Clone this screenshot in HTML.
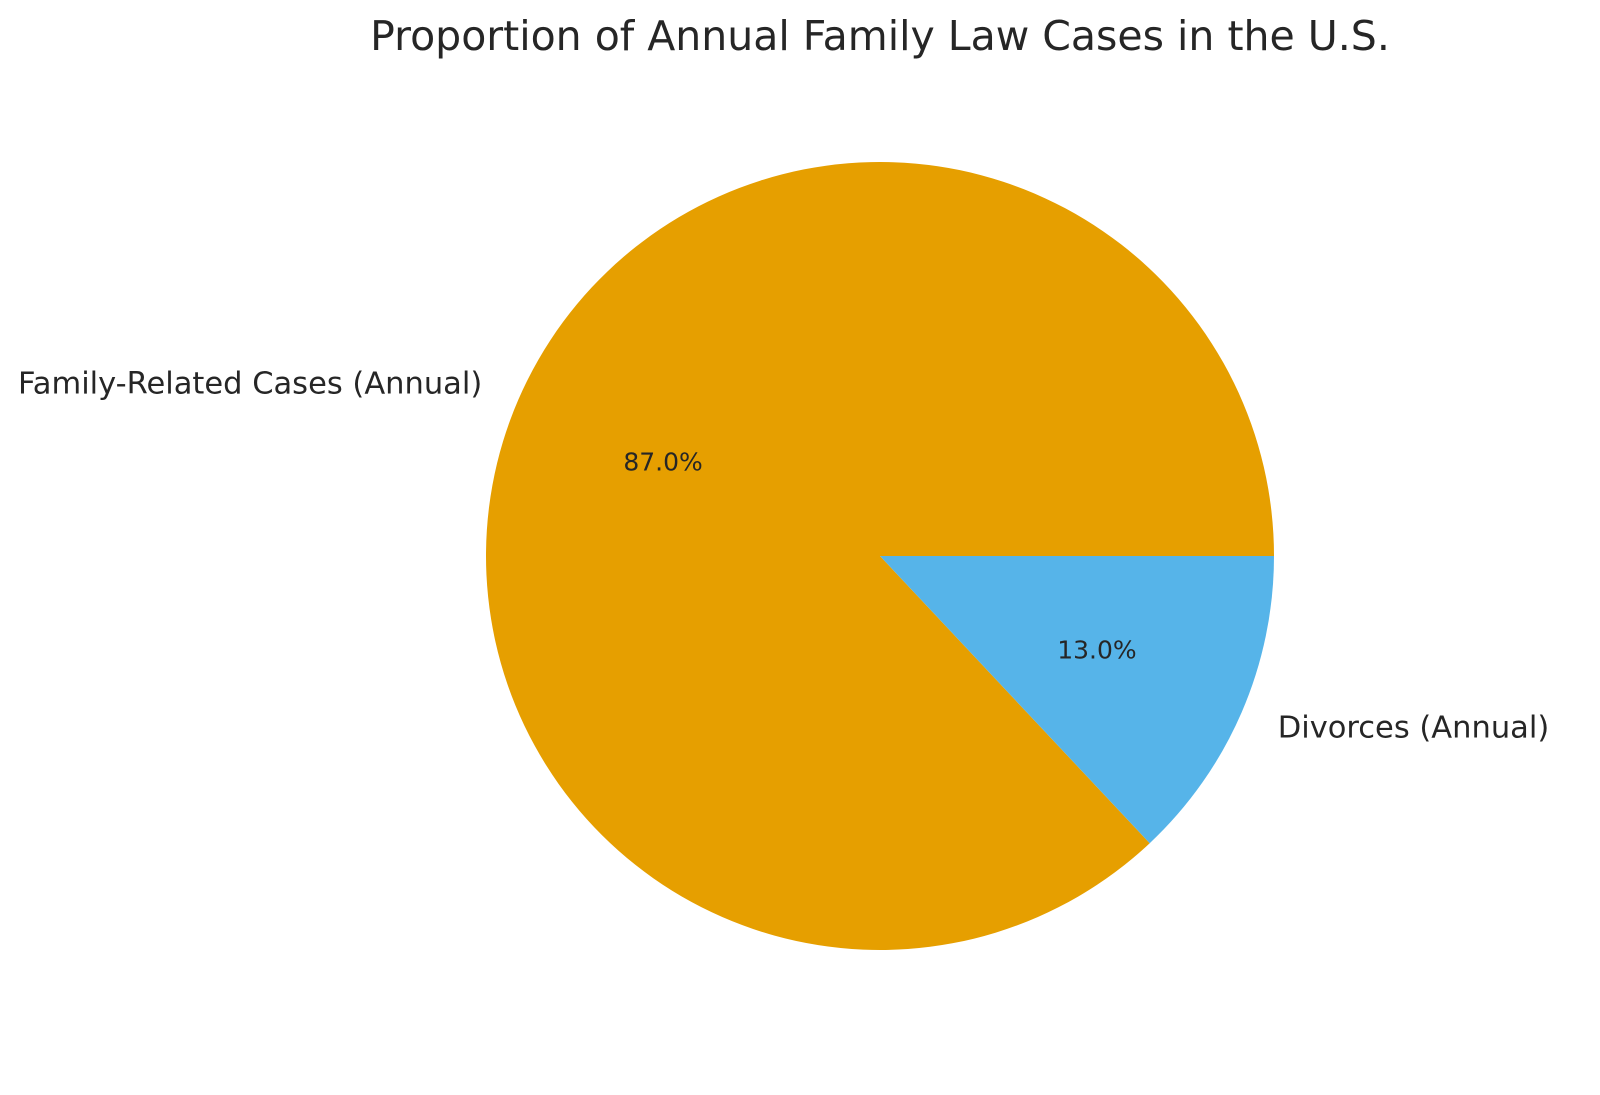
<!DOCTYPE html>
<html><head><meta charset="utf-8"><style>
html,body{margin:0;padding:0;background:#fff;}
svg text{font-family:"DejaVu Sans","Liberation Sans",sans-serif;fill:#262626;}
</style></head><body>
<svg id="chart" width="1600" height="1090" viewBox="0 0 1600 1090" xmlns="http://www.w3.org/2000/svg">
<text x="880" y="50" text-anchor="middle" font-size="41">Proportion of Annual Family Law Cases in the U.S.</text>
<g id="slices"></g>
</svg>
<script>
const categories = ["Family-Related Cases (Annual)", "Divorces (Annual)"];
const values = [87, 13];
const colors = ["#E69F00", "#56B4E9"];
const cx = 880, cy = 556, R = 394;
const g = document.getElementById('slices');
const NS = "http://www.w3.org/2000/svg";
const total = values.reduce((a,b)=>a+b,0);
function pt(angDeg, r){ const a = angDeg*Math.PI/180; return [cx + r*Math.cos(a), cy - r*Math.sin(a)]; }
let start = 0;
values.forEach((v,i)=>{
  const sweep = v/total*360;
  const end = start + sweep;
  const [x1,y1] = pt(start,R), [x2,y2] = pt(end,R);
  const large = sweep > 180 ? 1 : 0;
  const p = document.createElementNS(NS,'path');
  p.setAttribute('d',`M${cx},${cy} L${x1},${y1} A${R},${R} 0 ${large} 0 ${x2},${y2} Z`);
  p.setAttribute('fill',colors[i]);
  
  
  g.appendChild(p);
  const mid = start + sweep/2;
  const [lx,ly] = pt(mid, R*1.1);
  const t = document.createElementNS(NS,'text');
  t.setAttribute('x',lx); t.setAttribute('y',ly);
  t.setAttribute('font-size','30.5');
  t.setAttribute('dominant-baseline','central');
  t.setAttribute('text-anchor', Math.cos(mid*Math.PI/180) < 0 ? 'end' : 'start');
  t.textContent = categories[i];
  
  
  g.appendChild(t);
  const [px,py] = pt(mid, R*0.6);
  const pt2 = document.createElementNS(NS,'text');
  pt2.setAttribute('x',px); pt2.setAttribute('y',py);
  pt2.setAttribute('font-size','25');
  pt2.setAttribute('dominant-baseline','central');
  pt2.setAttribute('text-anchor','middle');
  pt2.textContent = (v/total*100).toFixed(1)+'%';
  
  
  g.appendChild(pt2);
  start = end;
});
</script>
</body></html>
